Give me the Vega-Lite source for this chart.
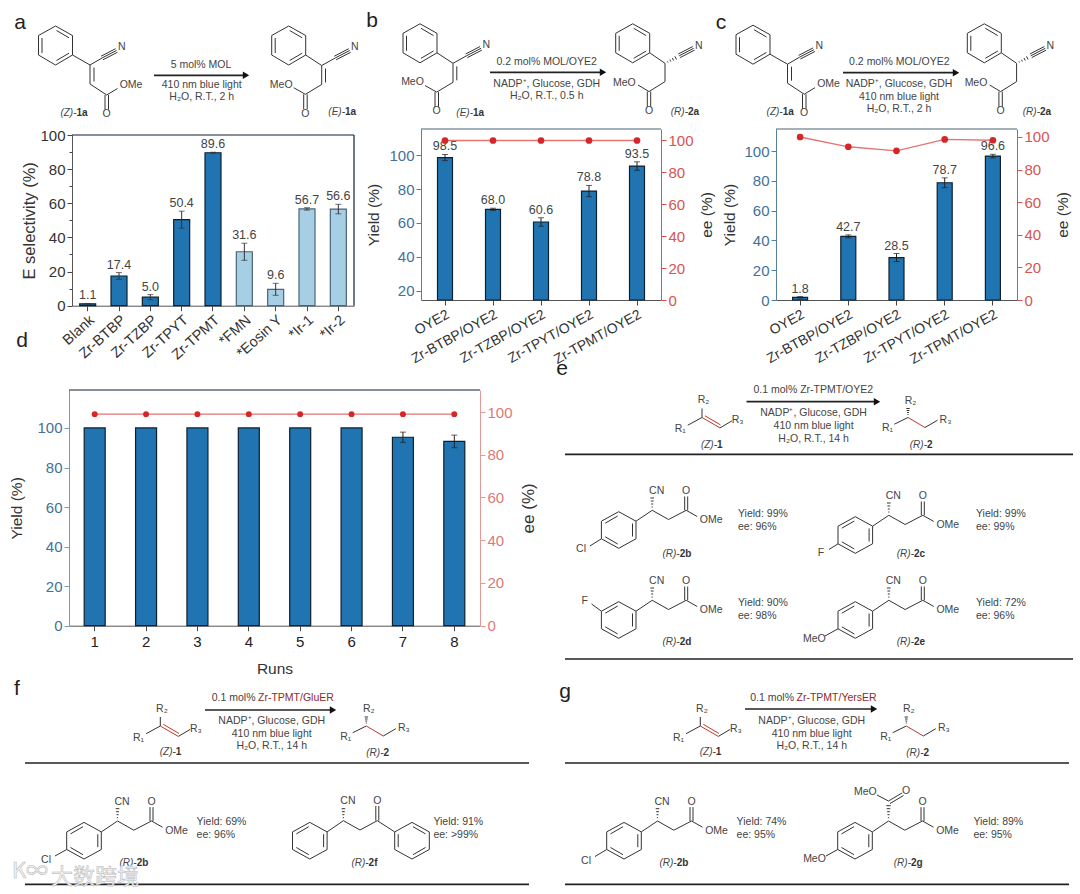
{
"$schema":"https://vega.github.io/schema/vega-lite/v6.json",
"width":1080,"height":894,"padding":0,"autosize":{"type":"none"},"background":"white",
"config":{"view":{"stroke":null},"font":"Liberation Sans","axis":{"grid":false,"titleFontWeight":"normal","labelOverlap":false,"labelBound":false,"labelFlush":false}},
"resolve":{"scale":{"x":"independent","y":"independent"},"axis":{"x":"independent","y":"independent"}},
"datasets":{
"a":[{"c":"Blank","v":1.1,"lo":0.9,"hi":1.3,"g":"d"},{"c":"Zr-BTBP","v":17.4,"lo":15.4,"hi":19.4,"g":"d"},{"c":"Zr-TZBP","v":5.0,"lo":3.5,"hi":6.5,"g":"d"},{"c":"Zr-TPYT","v":50.4,"lo":45.4,"hi":55.4,"g":"d"},{"c":"Zr-TPMT","v":89.6,"lo":89.3,"hi":89.9,"g":"d"},{"c":"*FMN","v":31.6,"lo":26.6,"hi":36.6,"g":"l"},{"c":"*Eosin Y","v":9.6,"lo":6.1,"hi":13.1,"g":"l"},{"c":"*Ir-1","v":56.7,"lo":56,"hi":57.4,"g":"l"},{"c":"*Ir-2","v":56.6,"lo":53.8,"hi":59.4,"g":"l"}],
"b":[{"c":"OYE2","v":98.5,"lo":96.7,"hi":100.3,"ee":99.7,"l":"98.5"},{"c":"Zr-BTBP/OYE2","v":68.0,"lo":67.3,"hi":68.7,"ee":99.7,"l":"68.0"},{"c":"Zr-TZBP/OYE2","v":60.6,"lo":58.1,"hi":63.1,"ee":99.7,"l":"60.6"},{"c":"Zr-TPYT/OYE2","v":78.8,"lo":75.5,"hi":82.1,"ee":99.7,"l":"78.8"},{"c":"Zr-TPMT/OYE2","v":93.5,"lo":91,"hi":96,"ee":99.7,"l":"93.5"}],
"c":[{"c":"OYE2","v":1.8,"lo":1.3,"hi":2.3,"ee":100,"l":"1.8"},{"c":"Zr-BTBP/OYE2","v":42.7,"lo":41.7,"hi":43.7,"ee":94,"l":"42.7"},{"c":"Zr-TZBP/OYE2","v":28.5,"lo":25.8,"hi":31.2,"ee":91.5,"l":"28.5"},{"c":"Zr-TPYT/OYE2","v":78.7,"lo":75.4,"hi":82,"ee":98.5,"l":"78.7"},{"c":"Zr-TPMT/OYE2","v":96.6,"lo":95.4,"hi":97.8,"ee":98,"l":"96.6"}],
"d":[{"c":"1","v":100,"ee":99},{"c":"2","v":100,"ee":99},{"c":"3","v":100,"ee":99},{"c":"4","v":100,"ee":99},{"c":"5","v":100,"ee":99},{"c":"6","v":100,"ee":99},{"c":"7","v":95.3,"lo":92.7,"hi":97.9,"ee":99},{"c":"8","v":93.2,"lo":90,"hi":96.4,"ee":99}],
"Z":[{"x":0,"y":-19.5,"x2":17,"y2":-10},{"x":17,"y":-10,"x2":17,"y2":9.5},{"x":17,"y":9.5,"x2":0,"y2":19.5},{"x":0,"y":19.5,"x2":-17,"y2":9.5},{"x":-17,"y":9.5,"x2":-17,"y2":-10},{"x":-17,"y":-10,"x2":0,"y2":-19.5},{"x":-13.5,"y":-7.5,"x2":-13.5,"y2":7.5},{"x":1,"y":-15,"x2":13.5,"y2":-7.7},{"x":13.5,"y":7.7,"x2":1,"y2":15},
{"x":17,"y":9.5,"x2":34.5,"y2":19.5},{"x":34.5,"y":19.5,"x2":46.5,"y2":12.5},{"x":46.5,"y":12.5,"x2":61,"y2":5},{"x":45.6,"y":10.7,"x2":60.1,"y2":3.2},{"x":47.4,"y":14.3,"x2":61.9,"y2":6.8},{"x":34.5,"y":19.5,"x2":34.5,"y2":38.5},{"x":38.5,"y":22,"x2":38.5,"y2":36},{"x":34.5,"y":38.5,"x2":51.2,"y2":49.5},{"x":49.5,"y":49.5,"x2":49.5,"y2":64},{"x":53,"y":49.5,"x2":53,"y2":64},{"x":51.2,"y":49.5,"x2":62,"y2":43},
{"x":66.2,"y":1.5,"t":"N"},{"x":75.5,"y":39,"t":"OMe"},{"x":51,"y":68.5,"t":"O"}],
"E":[{"x":0,"y":-19.5,"x2":17,"y2":-10},{"x":17,"y":-10,"x2":17,"y2":9.5},{"x":17,"y":9.5,"x2":0,"y2":19.5},{"x":0,"y":19.5,"x2":-17,"y2":9.5},{"x":-17,"y":9.5,"x2":-17,"y2":-10},{"x":-17,"y":-10,"x2":0,"y2":-19.5},{"x":-13.5,"y":-7.5,"x2":-13.5,"y2":7.5},{"x":1,"y":-15,"x2":13.5,"y2":-7.7},{"x":13.5,"y":7.7,"x2":1,"y2":15},
{"x":17,"y":9.5,"x2":33,"y2":20},{"x":33,"y":20,"x2":46.5,"y2":12.5},{"x":46.5,"y":12.5,"x2":61,"y2":5},{"x":45.6,"y":10.7,"x2":60.1,"y2":3.2},{"x":47.4,"y":14.3,"x2":61.9,"y2":6.8},{"x":33,"y":20,"x2":33,"y2":39},{"x":36.8,"y":23,"x2":36.8,"y2":37},{"x":33,"y":39,"x2":16.7,"y2":48.8},{"x":15,"y":48.8,"x2":15,"y2":63.5},{"x":18.5,"y":48.8,"x2":18.5,"y2":63.5},{"x":16.7,"y":48.8,"x2":5,"y2":42.2},
{"x":66.2,"y":1.5,"t":"N"},{"x":-7.5,"y":39,"t":"MeO"},{"x":16.7,"y":68,"t":"O"}],
"R":[{"x":0,"y":-19.5,"x2":17,"y2":-10},{"x":17,"y":-10,"x2":17,"y2":9.5},{"x":17,"y":9.5,"x2":0,"y2":19.5},{"x":0,"y":19.5,"x2":-17,"y2":9.5},{"x":-17,"y":9.5,"x2":-17,"y2":-10},{"x":-17,"y":-10,"x2":0,"y2":-19.5},{"x":-13.5,"y":-7.5,"x2":-13.5,"y2":7.5},{"x":1,"y":-15,"x2":13.5,"y2":-7.7},{"x":13.5,"y":7.7,"x2":1,"y2":15},
{"x":17,"y":9.5,"x2":32.3,"y2":20},{"x":34.73,"y":18.1,"x2":35.27,"y2":19.2},{"x":37.15,"y":16.4,"x2":38.05,"y2":18.2},{"x":39.67,"y":14.7,"x2":40.93,"y2":17.2},{"x":42.2,"y":13,"x2":43.8,"y2":16.2},{"x":46.5,"y":12.5,"x2":61,"y2":5},{"x":45.6,"y":10.7,"x2":60.1,"y2":3.2},{"x":47.4,"y":14.3,"x2":61.9,"y2":6.8},{"x":32.3,"y":20,"x2":32.3,"y2":38.3},{"x":32.3,"y":38.3,"x2":16.3,"y2":48.3},{"x":14.6,"y":48.3,"x2":14.6,"y2":63.4},{"x":18,"y":48.3,"x2":18,"y2":63.4},{"x":16.3,"y":48.3,"x2":5.3,"y2":41.7},
{"x":66,"y":2.4,"t":"N"},{"x":-8.3,"y":40,"t":"MeO"},{"x":16.3,"y":67.5,"t":"O"}],
"Ch":[{"x":0,"y":-18.3,"x2":17.3,"y2":-8.8},{"x":17.3,"y":-8.8,"x2":17.3,"y2":8.8},{"x":17.3,"y":8.8,"x2":0,"y2":18.3},{"x":0,"y":18.3,"x2":-17.3,"y2":8.8},{"x":-17.3,"y":8.8,"x2":-17.3,"y2":-8.8},{"x":-17.3,"y":-8.8,"x2":0,"y2":-18.3},{"x":13.8,"y":-6.5,"x2":13.8,"y2":6.5},{"x":-13.5,"y":-6.8,"x2":-1,"y2":-14},{"x":-13.5,"y":6.8,"x2":-1,"y2":14},
{"x":17.3,"y":-8.8,"x2":33.5,"y2":-19.7},{"x":33.5,"y":-19.7,"x2":49.8,"y2":-10.5},{"x":49.8,"y":-10.5,"x2":67.5,"y2":-19.7},{"x":66,"y":-19.7,"x2":66,"y2":-33.5},{"x":69,"y":-19.7,"x2":69,"y2":-33.5},{"x":67.5,"y":-19.7,"x2":78.5,"y2":-13.5},
{"x":32.9,"y":-23,"x2":34.1,"y2":-23},{"x":32.5,"y":-26,"x2":34.5,"y2":-26},{"x":32.1,"y":-29,"x2":34.9,"y2":-29},{"x":31.7,"y":-32,"x2":35.3,"y2":-32},
{"x":67.5,"y":-39,"t":"O"},{"x":92.5,"y":-10,"t":"OMe"}],
"S":[{"x":-14.2,"y":7.7,"x2":0,"y2":0},{"x":0,"y":0,"x2":0,"y2":-9},{"x":18,"y":10.4,"x2":29.9,"y2":3.4},{"x":192.4,"y":6.7,"x2":206,"y2":0},{"x":205.5,"y":-3,"x2":206.5,"y2":-3},{"x":205.1,"y":-5,"x2":206.9,"y2":-5},{"x":204.7,"y":-7,"x2":207.3,"y2":-7},{"x":204.3,"y":-9,"x2":207.7,"y2":-9},{"x":223,"y":10,"x2":235.5,"y2":2.7},
{"x":-21.7,"y":11.7,"t":"R₁"},{"x":1.6,"y":-17.3,"t":"R₂"},{"x":35.6,"y":2.7,"t":"R₃"},{"x":185.5,"y":10.7,"t":"R₁"},{"x":208.5,"y":-17,"t":"R₂"},{"x":243.5,"y":2,"t":"R₃"}],
"Sr":[{"x":0,"y":0,"x2":18,"y2":10.4},{"x":3,"y":-1.7,"x2":18.5,"y2":7.4},{"x":206,"y":0,"x2":223,"y2":10}],
"heavy":[{"x":154,"y":75.3,"x2":247,"y2":75.3},{"x":490,"y":72.3,"x2":604,"y2":72.3},{"x":843,"y":72.7,"x2":957,"y2":72.7},{"x":746.5,"y":401.7,"x2":878,"y2":401.7},{"x":205,"y":710,"x2":334,"y2":710},{"x":745,"y":709,"x2":875,"y2":709},{"x":565,"y":454.3,"x2":1073,"y2":454.3},{"x":565,"y":659,"x2":1073,"y2":659},{"x":25,"y":763,"x2":529,"y2":763},{"x":25,"y":884.3,"x2":529,"y2":884.3},{"x":565,"y":763,"x2":1069,"y2":763},{"x":565,"y":884.3,"x2":1069,"y2":884.3}],
"heads":[{"x":246,"y":75.3},{"x":603,"y":72.3},{"x":956,"y":72.7},{"x":877,"y":401.7},{"x":333,"y":710},{"x":874,"y":709}],
"frames":[{"x":72,"y":135,"x2":354,"y2":135,"p":"a"},{"x":354,"y":135,"x2":354,"y2":305.7,"p":"a"},{"x":421,"y":129,"x2":661,"y2":129,"p":"b"},{"x":776,"y":129,"x2":1017,"y2":129,"p":"b"},{"x":69,"y":390,"x2":480,"y2":390,"p":"a"}],
"bonds":[{"x":601.4,"y":538.8,"x2":589.9,"y2":546},{"x":838,"y":543.8,"x2":829,"y2":549.5},{"x":838,"y":628.8,"x2":825,"y2":636},{"x":601.4,"y":611.2,"x2":591.6,"y2":604},{"x":66.7,"y":849.5,"x2":55,"y2":856},{"x":606.7,"y":849.5,"x2":595,"y2":856.5},{"x":837.7,"y":849.5,"x2":826,"y2":856},
{"x":309.8,"y":822.4,"x2":327.1,"y2":831.9},{"x":327.1,"y":831.9,"x2":327.1,"y2":849.5},{"x":327.1,"y":849.5,"x2":309.8,"y2":859},{"x":309.8,"y":859,"x2":292.5,"y2":849.5},{"x":292.5,"y":849.5,"x2":292.5,"y2":831.9},{"x":292.5,"y":831.9,"x2":309.8,"y2":822.4},{"x":323.6,"y":834.2,"x2":323.6,"y2":847.2},{"x":296.3,"y":833.9,"x2":308.8,"y2":826.7},{"x":296.3,"y":847.5,"x2":308.8,"y2":854.7},
{"x":327.1,"y":831.9,"x2":343.4,"y2":820.7},{"x":343.4,"y":820.7,"x2":360,"y2":830},{"x":360,"y":830,"x2":377.3,"y2":820.7},{"x":375.8,"y":820.7,"x2":375.8,"y2":806},{"x":378.8,"y":820.7,"x2":378.8,"y2":806},{"x":342.8,"y":817.7,"x2":344,"y2":817.7},{"x":342.4,"y":814.7,"x2":344.4,"y2":814.7},{"x":342,"y":811.7,"x2":344.8,"y2":811.7},{"x":341.6,"y":808.7,"x2":345.2,"y2":808.7},
{"x":412,"y":822.4,"x2":429.3,"y2":831.9},{"x":429.3,"y":831.9,"x2":429.3,"y2":849.5},{"x":429.3,"y":849.5,"x2":412,"y2":859},{"x":412,"y":859,"x2":394.7,"y2":849.5},{"x":394.7,"y":849.5,"x2":394.7,"y2":831.9},{"x":394.7,"y":831.9,"x2":412,"y2":822.4},{"x":398.2,"y":834.2,"x2":398.2,"y2":847.2},{"x":413,"y":826.7,"x2":425.5,"y2":833.9},{"x":425.5,"y":847.5,"x2":413,"y2":854.7},{"x":377.3,"y":820.7,"x2":394.7,"y2":831.9},
{"x":886.3,"y":805.7,"x2":890.7,"y2":805.7},{"x":888.5,"y":801,"x2":902,"y2":793},{"x":890,"y":803.5,"x2":903.5,"y2":795.5},{"x":888.5,"y":801,"x2":877,"y2":795}],
"atoms":[{"x":656.7,"y":491,"t":"CN"},{"x":893.3,"y":496,"t":"CN"},{"x":656.7,"y":581,"t":"CN"},{"x":893.3,"y":581,"t":"CN"},{"x":122,"y":802,"t":"CN"},{"x":662,"y":802,"t":"CN"},{"x":347.9,"y":801,"t":"CN"},{"x":377.3,"y":801,"t":"O"},{"x":581,"y":549,"t":"Cl"},{"x":821,"y":553.3,"t":"F"},{"x":814.3,"y":639,"t":"MeO"},{"x":584.8,"y":601,"t":"F"},{"x":46,"y":860,"t":"Cl"},{"x":586,"y":860.7,"t":"Cl"},{"x":814.5,"y":859.3,"t":"MeO"},{"x":906.2,"y":791,"t":"O"},{"x":865.4,"y":791.7,"t":"MeO"}],
"rt":[{"x":201,"y":65,"t":"5 mol% MOL"},{"x":201.7,"y":85,"t":"410 nm blue light"},{"x":201.7,"y":97.3,"t":"H₂O, R.T., 2 h"},
{"x":546.7,"y":62.3,"t":"0.2 mol% MOL/OYE2"},{"x":546.7,"y":84,"t":"NADP⁺, Glucose, GDH"},{"x":546.7,"y":96,"t":"H₂O, R.T., 0.5 h"},
{"x":899.3,"y":62.3,"t":"0.2 mol% MOL/OYE2"},{"x":899,"y":84,"t":"NADP⁺, Glucose, GDH"},{"x":899,"y":96.7,"t":"410 nm blue light"},{"x":899,"y":109,"t":"H₂O, R.T., 2 h"},
{"x":813.3,"y":390,"t":"0.1 mol% Zr-TPMT/OYE2"},{"x":813.6,"y":413,"t":"NADP⁺, Glucose, GDH"},{"x":813.6,"y":425.7,"t":"410 nm blue light"},{"x":813.6,"y":439,"t":"H₂O, R.T., 14 h"},
{"x":271.7,"y":721,"t":"NADP⁺, Glucose, GDH"},{"x":271.7,"y":733.7,"t":"410 nm blue light"},{"x":271.7,"y":746,"t":"H₂O, R.T., 14 h"},
{"x":811.7,"y":721,"t":"NADP⁺, Glucose, GDH"},{"x":811.7,"y":733.7,"t":"410 nm blue light"},{"x":811.7,"y":746,"t":"H₂O, R.T., 14 h"}],
"prefix":[{"x":255.5,"y":698.3,"t":"0.1 mol%"},{"x":794,"y":698.3,"t":"0.1 mol%"}],
"redt":[{"x":258,"y":698.3,"t":"Zr-TPMT/GluER"},{"x":796.5,"y":698.3,"t":"Zr-TPMT/YersER"}],
"yields":[{"x":738,"y":514,"t":"Yield: 99%"},{"x":738,"y":526.7,"t":"ee: 96%"},{"x":976,"y":514,"t":"Yield: 99%"},{"x":976,"y":526.7,"t":"ee: 99%"},{"x":738,"y":603.3,"t":"Yield: 90%"},{"x":738,"y":616,"t":"ee: 98%"},{"x":976,"y":603.3,"t":"Yield: 72%"},{"x":976,"y":616,"t":"ee: 96%"},{"x":196.6,"y":822.3,"t":"Yield: 69%"},{"x":196.6,"y":835,"t":"ee: 96%"},{"x":433.4,"y":822.3,"t":"Yield: 91%"},{"x":433.4,"y":835,"t":"ee: >99%"},{"x":736.6,"y":822.3,"t":"Yield: 74%"},{"x":736.6,"y":835,"t":"ee: 95%"},{"x":973.4,"y":822.3,"t":"Yield: 89%"},{"x":973.4,"y":835,"t":"ee: 95%"}],
"nameI":[{"x":76.5,"y":113,"t":"(Z)-"},{"x":345,"y":112,"t":"(E)-"},{"x":473,"y":113,"t":"(E)-"},{"x":688,"y":112,"t":"(R)-"},{"x":782.7,"y":112,"t":"(Z)-"},{"x":1040,"y":112,"t":"(R)-"},{"x":717,"y":445,"t":"(Z)-"},{"x":927,"y":445,"t":"(R)-"},{"x":175.8,"y":752.3,"t":"(Z)-"},{"x":383.5,"y":753,"t":"(R)-"},{"x":715.8,"y":752.3,"t":"(Z)-"},{"x":923.5,"y":753,"t":"(R)-"},{"x":679.7,"y":554.3,"t":"(R)-"},{"x":914,"y":554.3,"t":"(R)-"},{"x":679.7,"y":642.3,"t":"(R)-"},{"x":914,"y":642.3,"t":"(R)-"},{"x":136.7,"y":863.3,"t":"(R)-"},{"x":368.6,"y":863.3,"t":"(R)-"},{"x":676.7,"y":863.3,"t":"(R)-"},{"x":911,"y":863.3,"t":"(R)-"}],
"nameB":[{"x":76.5,"y":113,"t":"1a"},{"x":345,"y":112,"t":"1a"},{"x":473,"y":113,"t":"1a"},{"x":688,"y":112,"t":"2a"},{"x":782.7,"y":112,"t":"1a"},{"x":1040,"y":112,"t":"2a"},{"x":717,"y":445,"t":"1"},{"x":927,"y":445,"t":"2"},{"x":175.8,"y":752.3,"t":"1"},{"x":383.5,"y":753,"t":"2"},{"x":715.8,"y":752.3,"t":"1"},{"x":923.5,"y":753,"t":"2"},{"x":679.7,"y":554.3,"t":"2b"},{"x":914,"y":554.3,"t":"2c"},{"x":679.7,"y":642.3,"t":"2d"},{"x":914,"y":642.3,"t":"2e"},{"x":136.7,"y":863.3,"t":"2b"},{"x":368.6,"y":863.3,"t":"2f"},{"x":676.7,"y":863.3,"t":"2b"},{"x":911,"y":863.3,"t":"2g"}],
"letters":[{"x":20,"y":23,"t":"a"},{"x":372,"y":21,"t":"b"},{"x":721,"y":23,"t":"c"},{"x":22,"y":341,"t":"d"},{"x":562,"y":369,"t":"e"},{"x":17,"y":689,"t":"f"},{"x":565,"y":692,"t":"g"}],
"mark":[{"x":95,"y":877,"t":"大数跨境"},{"x":30,"y":871,"t":"K∞"}]
},
"layer":[
{"data":{"name":"a"},"encoding":{
"x":{"field":"c","type":"nominal","sort":null,"scale":{"type":"band","domain":["Blank","Zr-BTBP","Zr-TZBP","Zr-TPYT","Zr-TPMT","*FMN","*Eosin Y","*Ir-1","*Ir-2"],"range":[72,354],"paddingInner":0,"paddingOuter":0},"axis":{"orient":"bottom","offset":-588.3,"title":null,"labelAngle":-42,"labelFontSize":14.5,"labelColor":"#333","tickColor":"#444","tickSize":5,"domainColor":"#555"}},
"y":{"field":"v","type":"quantitative","title":"E selectivity (%)","scale":{"domain":[0,100],"range":[305.7,135],"nice":false,"zero":false},"axis":{"orient":"left","offset":-72,"values":[0,20,40,60,80,100],"title":"E selectivity (%)","titleFontSize":16.5,"titleColor":"#333","titlePadding":2,"labelColor":"#333","labelFontSize":15,"tickColor":"#444","tickSize":5,"domainColor":"#555"}}},
"layer":[
{"mark":{"type":"bar","width":16,"strokeWidth":1.2},"encoding":{"y2":{"datum":0},"color":{"field":"g","type":"nominal","legend":null,"scale":{"domain":["d","l"],"range":["#1f74b1","#a6cfe5"]}},"stroke":{"field":"g","type":"nominal","legend":null,"scale":{"domain":["d","l"],"range":["#10202e","#4a6478"]}}}},
{"mark":{"type":"rule","color":"#333","strokeWidth":1},"encoding":{"y":{"field":"lo","type":"quantitative","title":null},"y2":{"field":"hi"}}},
{"mark":{"type":"tick","size":6,"thickness":1,"color":"#333"},"encoding":{"y":{"field":"lo","type":"quantitative","title":null}}},
{"mark":{"type":"tick","size":6,"thickness":1,"color":"#333"},"encoding":{"y":{"field":"hi","type":"quantitative","title":null}}},
{"mark":{"type":"text","fontSize":12.5,"color":"#444","baseline":"bottom","dy":-1},"encoding":{"y":{"field":"hi","type":"quantitative","title":null},"text":{"field":"v","type":"quantitative","format":".1f"}}}
]},
{"data":{"values":[{"v":0}]},"mark":{"type":"point","opacity":0},"encoding":{"y":{"field":"v","type":"quantitative","scale":{"domain":[0,100],"range":[305.7,135],"nice":false,"zero":false},"axis":{"orient":"left","offset":-72,"values":[10,30,50,70,90],"labels":false,"title":null,"domain":false,"tickSize":3,"tickColor":"#444"}}}},

{"data":{"name":"b"},"encoding":{
"x":{"field":"c","type":"nominal","sort":null,"scale":{"type":"band","domain":["OYE2","Zr-BTBP/OYE2","Zr-TZBP/OYE2","Zr-TPYT/OYE2","Zr-TPMT/OYE2"],"range":[421,661],"paddingInner":0,"paddingOuter":0},"axis":{"orient":"bottom","offset":-594,"title":null,"labelAngle":-29,"labelFontSize":14,"labelColor":"#333","tickColor":"#444","tickSize":5,"domainColor":"#555"}},
"y":{"field":"v","type":"quantitative","title":"Yield (%)","scale":{"domain":[14.7,115.3],"range":[300,129],"nice":false,"zero":false},"axis":{"orient":"left","offset":-421,"values":[20,40,60,80,100],"title":"Yield (%)","titleFontSize":15.5,"titleColor":"#333","titlePadding":7,"labelColor":"#3f7199","labelFontSize":15,"tickColor":"#56809e","tickSize":5,"domainColor":"#56809e"}}},
"layer":[
{"mark":{"type":"bar","width":15,"fill":"#1f74b1","stroke":"#10202e","strokeWidth":1.2},"encoding":{"y2":{"datum":14.7}}},
{"mark":{"type":"rule","color":"#222","strokeWidth":1},"encoding":{"y":{"field":"lo","type":"quantitative","title":null},"y2":{"field":"hi"}}},
{"mark":{"type":"tick","size":6,"thickness":1,"color":"#222"},"encoding":{"y":{"field":"lo","type":"quantitative","title":null}}},
{"mark":{"type":"tick","size":6,"thickness":1,"color":"#222"},"encoding":{"y":{"field":"hi","type":"quantitative","title":null}}},
{"mark":{"type":"text","fontSize":12.5,"color":"#444","baseline":"bottom","dy":-1},"encoding":{"y":{"field":"hi","type":"quantitative","title":null},"text":{"field":"l"}}}
]},
{"data":{"name":"b"},"encoding":{
"x":{"field":"c","type":"nominal","sort":null,"axis":null,"scale":{"type":"band","domain":["OYE2","Zr-BTBP/OYE2","Zr-TZBP/OYE2","Zr-TPYT/OYE2","Zr-TPMT/OYE2"],"range":[421,661],"paddingInner":0,"paddingOuter":0}},
"y":{"field":"ee","type":"quantitative","title":"ee (%)","scale":{"domain":[0,106.9],"range":[300,129],"nice":false,"zero":false},"axis":{"orient":"right","offset":-419,"values":[0,20,40,60,80,100],"title":"ee (%)","titleFontSize":15.5,"titleColor":"#333","titleAngle":-90,"titleBaseline":"top","titlePadding":6,"labelColor":"#d9534f","labelFontSize":15,"tickColor":"#d9534f","tickSize":5,"domainColor":"#d9534f"}}},
"layer":[{"mark":{"type":"line","color":"#e57373","strokeWidth":1.3}},{"mark":{"type":"point","filled":true,"opacity":1,"color":"#d62728","size":45}}]},

{"data":{"name":"c"},"encoding":{
"x":{"field":"c","type":"nominal","sort":null,"scale":{"type":"band","domain":["OYE2","Zr-BTBP/OYE2","Zr-TZBP/OYE2","Zr-TPYT/OYE2","Zr-TPMT/OYE2"],"range":[776,1017],"paddingInner":0,"paddingOuter":0},"axis":{"orient":"bottom","offset":-594,"title":null,"labelAngle":-29,"labelFontSize":14,"labelColor":"#333","tickColor":"#444","tickSize":5,"domainColor":"#555"}},
"y":{"field":"v","type":"quantitative","title":"Yield (%)","scale":{"domain":[0,114.8],"range":[300,129],"nice":false,"zero":false},"axis":{"orient":"left","offset":-776,"values":[0,20,40,60,80,100],"title":"Yield (%)","titleFontSize":15.5,"titleColor":"#333","titlePadding":6,"labelColor":"#3f7199","labelFontSize":15,"tickColor":"#56809e","tickSize":5,"domainColor":"#56809e"}}},
"layer":[
{"mark":{"type":"bar","width":15,"fill":"#1f74b1","stroke":"#10202e","strokeWidth":1.2},"encoding":{"y2":{"datum":0}}},
{"mark":{"type":"rule","color":"#222","strokeWidth":1},"encoding":{"y":{"field":"lo","type":"quantitative","title":null},"y2":{"field":"hi"}}},
{"mark":{"type":"tick","size":6,"thickness":1,"color":"#222"},"encoding":{"y":{"field":"lo","type":"quantitative","title":null}}},
{"mark":{"type":"tick","size":6,"thickness":1,"color":"#222"},"encoding":{"y":{"field":"hi","type":"quantitative","title":null}}},
{"mark":{"type":"text","fontSize":12.5,"color":"#444","baseline":"bottom","dy":-1},"encoding":{"y":{"field":"hi","type":"quantitative","title":null},"text":{"field":"l"}}}
]},
{"data":{"name":"c"},"encoding":{
"x":{"field":"c","type":"nominal","sort":null,"axis":null,"scale":{"type":"band","domain":["OYE2","Zr-BTBP/OYE2","Zr-TZBP/OYE2","Zr-TPYT/OYE2","Zr-TPMT/OYE2"],"range":[776,1017],"paddingInner":0,"paddingOuter":0}},
"y":{"field":"ee","type":"quantitative","title":"ee (%)","scale":{"domain":[0,104.9],"range":[300,129],"nice":false,"zero":false},"axis":{"orient":"right","offset":-63,"values":[0,20,40,60,80,100],"title":"ee (%)","titleFontSize":15.5,"titleColor":"#333","titleAngle":-90,"titleBaseline":"top","titlePadding":6,"labelColor":"#d9534f","labelFontSize":15,"tickColor":"#d9534f","tickSize":5,"domainColor":"#d9534f"}}},
"layer":[{"mark":{"type":"line","color":"#e57373","strokeWidth":1.3}},{"mark":{"type":"point","filled":true,"opacity":1,"color":"#d62728","size":45}}]},

{"data":{"name":"d"},"encoding":{
"x":{"field":"c","type":"nominal","sort":null,"scale":{"type":"band","domain":["1","2","3","4","5","6","7","8"],"range":[69,480],"paddingInner":0,"paddingOuter":0},"axis":{"orient":"bottom","offset":-268.3,"title":"Runs","titleFontSize":15.5,"titleColor":"#333","titlePadding":12,"labelAngle":0,"labelFontSize":15,"labelColor":"#222","labelPadding":4,"tickColor":"#444","tickSize":5,"domainColor":"#555"}},
"y":{"field":"v","type":"quantitative","title":"Yield (%)","scale":{"domain":[0,119.2],"range":[625.7,390],"nice":false,"zero":false},"axis":{"orient":"left","offset":-69,"values":[0,20,40,60,80,100],"title":"Yield (%)","titleFontSize":15.5,"titleColor":"#333","titlePadding":12,"labelColor":"#3f7199","labelFontSize":15,"tickColor":"#7a9cb3","tickSize":5,"domainColor":"#7a9cb3"}}},
"layer":[
{"mark":{"type":"bar","width":21,"fill":"#1f74b1","stroke":"#10202e","strokeWidth":1.2},"encoding":{"y2":{"datum":0}}},
{"transform":[{"filter":"datum.lo"}],"mark":{"type":"rule","color":"#222","strokeWidth":1},"encoding":{"y":{"field":"lo","type":"quantitative","title":null},"y2":{"field":"hi"}}},
{"transform":[{"filter":"datum.lo"}],"mark":{"type":"tick","size":6,"thickness":1,"color":"#222"},"encoding":{"y":{"field":"lo","type":"quantitative","title":null}}},
{"transform":[{"filter":"datum.lo"}],"mark":{"type":"tick","size":6,"thickness":1,"color":"#222"},"encoding":{"y":{"field":"hi","type":"quantitative","title":null}}}
]},
{"data":{"name":"d"},"encoding":{
"x":{"field":"c","type":"nominal","sort":null,"axis":null,"scale":{"type":"band","domain":["1","2","3","4","5","6","7","8"],"range":[69,480],"paddingInner":0,"paddingOuter":0}},
"y":{"field":"ee","type":"quantitative","title":"ee (%)","scale":{"domain":[0,110.3],"range":[625.7,390],"nice":false,"zero":false},"axis":{"orient":"right","offset":-600,"values":[0,20,40,60,80,100],"title":"ee (%)","titleFontSize":17,"titleColor":"#333","titleAngle":-90,"titleBaseline":"top","titlePadding":8,"labelColor":"#dc7a78","labelFontSize":15,"tickColor":"#e59a98","tickSize":5,"domainColor":"#e59a98"}}},
"layer":[{"mark":{"type":"line","color":"#e57373","strokeWidth":1.2}},{"mark":{"type":"point","filled":true,"opacity":1,"color":"#d62728","size":35}}]},

{"data":{"name":"frames"},"mark":{"type":"rule","strokeWidth":1.2},"encoding":{
"x":{"field":"x","type":"quantitative","axis":null,"scale":{"domain":[0,1080],"range":[0,1080],"nice":false,"zero":false}},"x2":{"field":"x2"},
"y":{"field":"y","type":"quantitative","axis":null,"scale":{"domain":[0,894],"range":[0,894],"nice":false,"zero":false}},"y2":{"field":"y2"},
"stroke":{"field":"p","type":"nominal","legend":null,"scale":{"domain":["a","b"],"range":["#6f7a82","#4f7088"]}}}},

{"data":{"name":"Z"},"encoding":{"x":{"field":"x","type":"quantitative","axis":null,"scale":{"domain":[0,100],"range":[55.5,155.5],"nice":false,"zero":false}},"y":{"field":"y","type":"quantitative","axis":null,"scale":{"domain":[0,100],"range":[45.5,145.5],"nice":false,"zero":false}}},"layer":[{"transform":[{"filter":"datum.t"}],"mark":{"type":"text","fontSize":10.5,"color":"#444"},"encoding":{"text":{"field":"t"}}},{"transform":[{"filter":"!datum.t"}],"mark":{"type":"rule","color":"#333","strokeWidth":1},"encoding":{"x2":{"field":"x2"},"y2":{"field":"y2"}}}]},
{"data":{"name":"Z"},"encoding":{"x":{"field":"x","type":"quantitative","axis":null,"scale":{"domain":[0,100],"range":[753,853],"nice":false,"zero":false}},"y":{"field":"y","type":"quantitative","axis":null,"scale":{"domain":[0,100],"range":[44.7,144.7],"nice":false,"zero":false}}},"layer":[{"transform":[{"filter":"datum.t"}],"mark":{"type":"text","fontSize":10.5,"color":"#444"},"encoding":{"text":{"field":"t"}}},{"transform":[{"filter":"!datum.t"}],"mark":{"type":"rule","color":"#333","strokeWidth":1},"encoding":{"x2":{"field":"x2"},"y2":{"field":"y2"}}}]},
{"data":{"name":"E"},"encoding":{"x":{"field":"x","type":"quantitative","axis":null,"scale":{"domain":[0,100],"range":[288.7,388.7],"nice":false,"zero":false}},"y":{"field":"y","type":"quantitative","axis":null,"scale":{"domain":[0,100],"range":[45.5,145.5],"nice":false,"zero":false}}},"layer":[{"transform":[{"filter":"datum.t"}],"mark":{"type":"text","fontSize":10.5,"color":"#444"},"encoding":{"text":{"field":"t"}}},{"transform":[{"filter":"!datum.t"}],"mark":{"type":"rule","color":"#333","strokeWidth":1},"encoding":{"x2":{"field":"x2"},"y2":{"field":"y2"}}}]},
{"data":{"name":"E"},"encoding":{"x":{"field":"x","type":"quantitative","axis":null,"scale":{"domain":[0,100],"range":[420,520],"nice":false,"zero":false}},"y":{"field":"y","type":"quantitative","axis":null,"scale":{"domain":[0,100],"range":[43.3,143.3],"nice":false,"zero":false}}},"layer":[{"transform":[{"filter":"datum.t"}],"mark":{"type":"text","fontSize":10.5,"color":"#444"},"encoding":{"text":{"field":"t"}}},{"transform":[{"filter":"!datum.t"}],"mark":{"type":"rule","color":"#333","strokeWidth":1},"encoding":{"x2":{"field":"x2"},"y2":{"field":"y2"}}}]},
{"data":{"name":"R"},"encoding":{"x":{"field":"x","type":"quantitative","axis":null,"scale":{"domain":[0,100],"range":[632.7,732.7],"nice":false,"zero":false}},"y":{"field":"y","type":"quantitative","axis":null,"scale":{"domain":[0,100],"range":[43.3,143.3],"nice":false,"zero":false}}},"layer":[{"transform":[{"filter":"datum.t"}],"mark":{"type":"text","fontSize":10.5,"color":"#444"},"encoding":{"text":{"field":"t"}}},{"transform":[{"filter":"!datum.t"}],"mark":{"type":"rule","color":"#333","strokeWidth":1},"encoding":{"x2":{"field":"x2"},"y2":{"field":"y2"}}}]},
{"data":{"name":"R"},"encoding":{"x":{"field":"x","type":"quantitative","axis":null,"scale":{"domain":[0,100],"range":[984.3,1084.3],"nice":false,"zero":false}},"y":{"field":"y","type":"quantitative","axis":null,"scale":{"domain":[0,100],"range":[43.3,143.3],"nice":false,"zero":false}}},"layer":[{"transform":[{"filter":"datum.t"}],"mark":{"type":"text","fontSize":10.5,"color":"#444"},"encoding":{"text":{"field":"t"}}},{"transform":[{"filter":"!datum.t"}],"mark":{"type":"rule","color":"#333","strokeWidth":1},"encoding":{"x2":{"field":"x2"},"y2":{"field":"y2"}}}]},

{"data":{"name":"Ch"},"encoding":{"x":{"field":"x","type":"quantitative","axis":null,"scale":{"domain":[0,100],"range":[618.7,718.7],"nice":false,"zero":false}},"y":{"field":"y","type":"quantitative","axis":null,"scale":{"domain":[0,100],"range":[530,630],"nice":false,"zero":false}}},"layer":[{"transform":[{"filter":"datum.t"}],"mark":{"type":"text","fontSize":10.5,"color":"#444"},"encoding":{"text":{"field":"t"}}},{"transform":[{"filter":"!datum.t"}],"mark":{"type":"rule","color":"#333","strokeWidth":1},"encoding":{"x2":{"field":"x2"},"y2":{"field":"y2"}}}]},
{"data":{"name":"Ch"},"encoding":{"x":{"field":"x","type":"quantitative","axis":null,"scale":{"domain":[0,100],"range":[855.3,955.3],"nice":false,"zero":false}},"y":{"field":"y","type":"quantitative","axis":null,"scale":{"domain":[0,100],"range":[535,635],"nice":false,"zero":false}}},"layer":[{"transform":[{"filter":"datum.t"}],"mark":{"type":"text","fontSize":10.5,"color":"#444"},"encoding":{"text":{"field":"t"}}},{"transform":[{"filter":"!datum.t"}],"mark":{"type":"rule","color":"#333","strokeWidth":1},"encoding":{"x2":{"field":"x2"},"y2":{"field":"y2"}}}]},
{"data":{"name":"Ch"},"encoding":{"x":{"field":"x","type":"quantitative","axis":null,"scale":{"domain":[0,100],"range":[618.7,718.7],"nice":false,"zero":false}},"y":{"field":"y","type":"quantitative","axis":null,"scale":{"domain":[0,100],"range":[620,720],"nice":false,"zero":false}}},"layer":[{"transform":[{"filter":"datum.t"}],"mark":{"type":"text","fontSize":10.5,"color":"#444"},"encoding":{"text":{"field":"t"}}},{"transform":[{"filter":"!datum.t"}],"mark":{"type":"rule","color":"#333","strokeWidth":1},"encoding":{"x2":{"field":"x2"},"y2":{"field":"y2"}}}]},
{"data":{"name":"Ch"},"encoding":{"x":{"field":"x","type":"quantitative","axis":null,"scale":{"domain":[0,100],"range":[855.3,955.3],"nice":false,"zero":false}},"y":{"field":"y","type":"quantitative","axis":null,"scale":{"domain":[0,100],"range":[620,720],"nice":false,"zero":false}}},"layer":[{"transform":[{"filter":"datum.t"}],"mark":{"type":"text","fontSize":10.5,"color":"#444"},"encoding":{"text":{"field":"t"}}},{"transform":[{"filter":"!datum.t"}],"mark":{"type":"rule","color":"#333","strokeWidth":1},"encoding":{"x2":{"field":"x2"},"y2":{"field":"y2"}}}]},
{"data":{"name":"Ch"},"encoding":{"x":{"field":"x","type":"quantitative","axis":null,"scale":{"domain":[0,100],"range":[84,184],"nice":false,"zero":false}},"y":{"field":"y","type":"quantitative","axis":null,"scale":{"domain":[0,100],"range":[840.7,940.7],"nice":false,"zero":false}}},"layer":[{"transform":[{"filter":"datum.t"}],"mark":{"type":"text","fontSize":10.5,"color":"#444"},"encoding":{"text":{"field":"t"}}},{"transform":[{"filter":"!datum.t"}],"mark":{"type":"rule","color":"#333","strokeWidth":1},"encoding":{"x2":{"field":"x2"},"y2":{"field":"y2"}}}]},
{"data":{"name":"Ch"},"encoding":{"x":{"field":"x","type":"quantitative","axis":null,"scale":{"domain":[0,100],"range":[624,724],"nice":false,"zero":false}},"y":{"field":"y","type":"quantitative","axis":null,"scale":{"domain":[0,100],"range":[840.7,940.7],"nice":false,"zero":false}}},"layer":[{"transform":[{"filter":"datum.t"}],"mark":{"type":"text","fontSize":10.5,"color":"#444"},"encoding":{"text":{"field":"t"}}},{"transform":[{"filter":"!datum.t"}],"mark":{"type":"rule","color":"#333","strokeWidth":1},"encoding":{"x2":{"field":"x2"},"y2":{"field":"y2"}}}]},
{"data":{"name":"Ch"},"encoding":{"x":{"field":"x","type":"quantitative","axis":null,"scale":{"domain":[0,100],"range":[855,955],"nice":false,"zero":false}},"y":{"field":"y","type":"quantitative","axis":null,"scale":{"domain":[0,100],"range":[840.7,940.7],"nice":false,"zero":false}}},"layer":[{"transform":[{"filter":"datum.t"}],"mark":{"type":"text","fontSize":10.5,"color":"#444"},"encoding":{"text":{"field":"t"}}},{"transform":[{"filter":"!datum.t"}],"mark":{"type":"rule","color":"#333","strokeWidth":1},"encoding":{"x2":{"field":"x2"},"y2":{"field":"y2"}}}]},

{"data":{"name":"S"},"encoding":{"x":{"field":"x","type":"quantitative","axis":null,"scale":{"domain":[0,100],"range":[702,802],"nice":false,"zero":false}},"y":{"field":"y","type":"quantitative","axis":null,"scale":{"domain":[0,100],"range":[417.5,517.5],"nice":false,"zero":false}}},"layer":[{"transform":[{"filter":"datum.t"}],"mark":{"type":"text","fontSize":10.5,"color":"#444"},"encoding":{"text":{"field":"t"}}},{"transform":[{"filter":"!datum.t"}],"mark":{"type":"rule","color":"#333","strokeWidth":1},"encoding":{"x2":{"field":"x2"},"y2":{"field":"y2"}}},{"data":{"name":"Sr"},"mark":{"type":"rule","color":"#c0392b","strokeWidth":1},"encoding":{"x2":{"field":"x2"},"y2":{"field":"y2"}}}]},
{"data":{"name":"S"},"encoding":{"x":{"field":"x","type":"quantitative","axis":null,"scale":{"domain":[0,100],"range":[160.3,260.3],"nice":false,"zero":false}},"y":{"field":"y","type":"quantitative","axis":null,"scale":{"domain":[0,100],"range":[726,826],"nice":false,"zero":false}}},"layer":[{"transform":[{"filter":"datum.t"}],"mark":{"type":"text","fontSize":10.5,"color":"#444"},"encoding":{"text":{"field":"t"}}},{"transform":[{"filter":"!datum.t"}],"mark":{"type":"rule","color":"#333","strokeWidth":1},"encoding":{"x2":{"field":"x2"},"y2":{"field":"y2"}}},{"data":{"name":"Sr"},"mark":{"type":"rule","color":"#c0392b","strokeWidth":1},"encoding":{"x2":{"field":"x2"},"y2":{"field":"y2"}}}]},
{"data":{"name":"S"},"encoding":{"x":{"field":"x","type":"quantitative","axis":null,"scale":{"domain":[0,100],"range":[700.3,800.3],"nice":false,"zero":false}},"y":{"field":"y","type":"quantitative","axis":null,"scale":{"domain":[0,100],"range":[726,826],"nice":false,"zero":false}}},"layer":[{"transform":[{"filter":"datum.t"}],"mark":{"type":"text","fontSize":10.5,"color":"#444"},"encoding":{"text":{"field":"t"}}},{"transform":[{"filter":"!datum.t"}],"mark":{"type":"rule","color":"#333","strokeWidth":1},"encoding":{"x2":{"field":"x2"},"y2":{"field":"y2"}}},{"data":{"name":"Sr"},"mark":{"type":"rule","color":"#c0392b","strokeWidth":1},"encoding":{"x2":{"field":"x2"},"y2":{"field":"y2"}}}]},

{"encoding":{"x":{"field":"x","type":"quantitative","axis":null,"scale":{"domain":[0,1080],"range":[0,1080],"nice":false,"zero":false}},"y":{"field":"y","type":"quantitative","axis":null,"scale":{"domain":[0,894],"range":[0,894],"nice":false,"zero":false}}},
"layer":[
{"data":{"name":"heavy"},"mark":{"type":"rule","color":"#222","strokeWidth":1.7},"encoding":{"x2":{"field":"x2"},"y2":{"field":"y2"}}},
{"data":{"name":"bonds"},"mark":{"type":"rule","color":"#333","strokeWidth":1},"encoding":{"x2":{"field":"x2"},"y2":{"field":"y2"}}},
{"data":{"name":"heads"},"mark":{"type":"point","shape":"triangle-right","filled":true,"opacity":1,"color":"#111","size":55}},
{"data":{"name":"atoms"},"mark":{"type":"text","fontSize":10.5,"color":"#444"},"encoding":{"text":{"field":"t"}}},
{"data":{"name":"rt"},"mark":{"type":"text","fontSize":10.5,"color":"#444"},"encoding":{"text":{"field":"t"}}},
{"data":{"name":"prefix"},"mark":{"type":"text","fontSize":10.5,"color":"#444","align":"right"},"encoding":{"text":{"field":"t"}}},
{"data":{"name":"redt"},"mark":{"type":"text","fontSize":10.5,"color":"#8e2a2a","align":"left"},"encoding":{"text":{"field":"t"}}},
{"data":{"name":"yields"},"mark":{"type":"text","fontSize":10.5,"color":"#444","align":"left"},"encoding":{"text":{"field":"t"}}},
{"data":{"name":"nameI"},"mark":{"type":"text","fontSize":10,"fontStyle":"italic","color":"#444","align":"right"},"encoding":{"text":{"field":"t"}}},
{"data":{"name":"nameB"},"mark":{"type":"text","fontSize":10,"fontWeight":"bold","color":"#333","align":"left"},"encoding":{"text":{"field":"t"}}},
{"data":{"name":"letters"},"mark":{"type":"text","fontSize":21,"color":"#222"},"encoding":{"text":{"field":"t"}}},
{"data":{"name":"mark"},"mark":{"type":"text","font":"Noto Sans CJK SC","fontSize":22,"fill":"#f4f4f4","stroke":"#b5b5b5","strokeWidth":0.5},"encoding":{"text":{"field":"t"}}}
]}
]}
